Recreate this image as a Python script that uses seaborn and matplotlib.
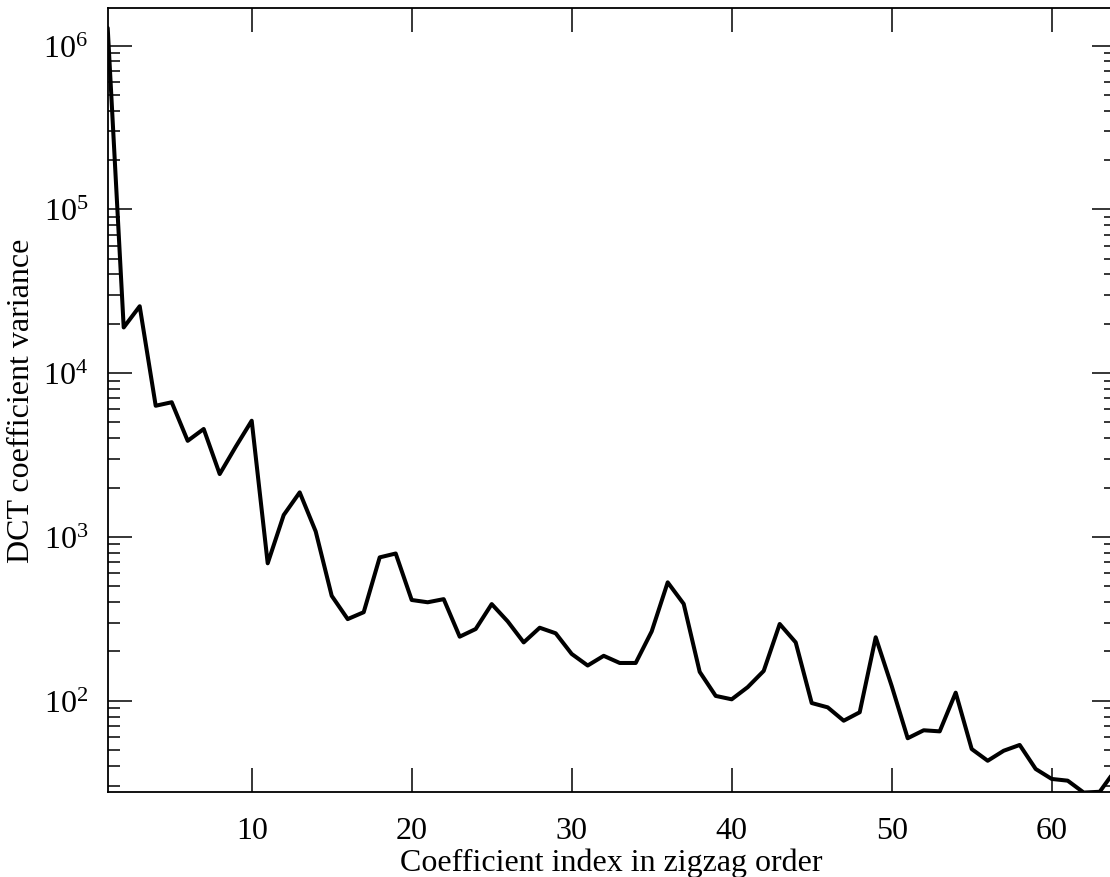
import numpy as np
import pandas as pd
import matplotlib
matplotlib.use("Agg")
import matplotlib.pyplot as plt
import seaborn as sns
from matplotlib.ticker import LogLocator, NullLocator, FuncFormatter, FixedLocator

# ---- data ----
coef_index = list(range(1, 65))
variance = [
    1.28e6, 1.9e4, 2.56e4, 6320, 6640, 3860, 4560, 2420, 3550, 5120,
    690, 1360, 1870, 1080, 437, 315, 347, 750, 792, 412,
    399, 417, 246, 274, 389, 305, 227, 279, 258, 193,
    164, 188, 170, 170, 265, 528, 390, 150, 107, 102,
    121, 152, 294, 227, 96.8, 91.1, 75.5, 85, 244, 123,
    59, 66, 65, 112, 50.7, 43, 49.5, 53.7, 38.3, 33.3,
    32.5, 27.5, 27.8, 38,
]
x_ticks = [10, 20, 30, 40, 50, 60]
x_label = "Coefficient index in zigzag order"
y_label = "DCT coefficient variance"

df = pd.DataFrame({"index": coef_index, "variance": variance})

sns.set_theme(style="ticks")
plt.rcParams["font.family"] = ["Liberation Serif", "DejaVu Serif"]
plt.rcParams["mathtext.fontset"] = "custom"
plt.rcParams["mathtext.rm"] = "Liberation Serif"
plt.rcParams["mathtext.it"] = "Liberation Serif:italic"
plt.rcParams["mathtext.bf"] = "Liberation Serif:bold"

W, H = 1110, 878
fig = plt.figure(figsize=(W / 100, H / 100), dpi=100)
fig.patch.set_facecolor("white")
left, right, top, bottom = 107.7, 1115.7, 9.3, 793.3
ax = fig.add_axes([left / W, (H - bottom) / H, (right - left) / W, (bottom - top) / H])
ax.set_facecolor("white")

sns.lineplot(data=df, x="index", y="variance", color="black", linewidth=2.9,
             ax=ax, legend=False)

ax.set_yscale("log")
ax.set_xlim(1, 64)
ax.set_ylim(27.6, 1.687e6)

ax.xaxis.set_major_locator(FixedLocator(x_ticks))
ax.xaxis.set_minor_locator(NullLocator())
ax.yaxis.set_major_locator(LogLocator(base=10, numticks=20))
ax.yaxis.set_minor_locator(LogLocator(base=10, subs=np.arange(2, 10), numticks=50))
ax.yaxis.set_major_formatter(FuncFormatter(lambda v, p: r"$\mathregular{10^{%d}}$" % int(round(np.log10(v)))))

for s in ax.spines.values():
    s.set_visible(True)
    s.set_linewidth(1.3)
    s.set_color("black")

ax.tick_params(which="both", direction="in", top=True, right=True, color="black")
ax.tick_params(which="major", length=17.3, width=1.1, labelsize=23, colors="black")
ax.tick_params(axis="y", which="major", pad=14)
ax.tick_params(axis="x", which="major", pad=17)
ax.tick_params(which="minor", length=8.6, width=1.1)

ax.set_xlabel(x_label, fontsize=23, color="black")
ax.set_ylabel(y_label, fontsize=23, color="black")
ax.xaxis.set_label_coords(0.5, (bottom - 849) / (bottom - top))
ax.yaxis.set_label_coords((36 - left) / (right - left), 0.5)

fig.savefig("out.png", dpi=100)
